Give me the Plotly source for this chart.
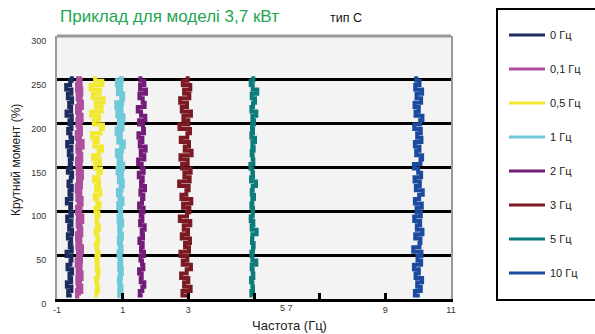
import plotly.graph_objects as go

# ---- data ----
torque = [4, 9, 14, 19, 24, 29, 34, 39, 44, 49, 54, 59, 64, 69, 74, 79, 84, 89, 94, 99,
          104, 109, 114, 119, 124, 129, 134, 139, 144, 149, 154, 159, 164, 169, 174, 179,
          184, 189, 194, 199, 204, 209, 214, 219, 224, 229, 234, 239, 244, 249, 254]

series_names = ["0 Гц", "0,1 Гц", "0,5 Гц", "1 Гц", "2 Гц", "3 Гц", "5 Гц", "10 Гц"]
series_centers = [-0.57, -0.33, 0.22, 0.92, 1.58, 2.92, 4.95, 10.0]

dev_0 = [0.02, -0.09, 0.01, -0.13, 0.00, -0.05, 0.03, -0.11, -0.02, 0.01,
         -0.14, 0.02, -0.04, 0.00, -0.10, 0.03, -0.06, 0.01, -0.12, 0.02,
         -0.03, 0.00, -0.13, 0.01, -0.05, 0.02, -0.08, -0.01, 0.03, -0.10,
         0.00, -0.04, 0.02, -0.07, 0.01, -0.12, 0.03, -0.02, -0.09, 0.01,
         -0.05, 0.02, -0.14, 0.00, -0.06, 0.03, -0.10, 0.01, -0.15, -0.03, 0.02]
dev_01 = [0.01, -0.03, 0.04, 0.00, -0.02, 0.05, -0.01, 0.02, -0.04, 0.03,
          0.00, 0.06, -0.02, 0.01, -0.03, 0.04, 0.02, -0.01, 0.07, 0.00,
          -0.03, 0.02, 0.05, -0.02, 0.01, -0.04, 0.03, 0.00, 0.06, -0.01,
          0.02, -0.03, 0.04, 0.01, -0.02, 0.08, 0.00, -0.04, 0.03, 0.01,
          -0.02, 0.05, 0.00, -0.03, 0.06, 0.02, -0.01, 0.04, -0.03, 0.02, 0.00]
dev_05 = [0.01, -0.02, 0.03, 0.00, -0.03, 0.02, 0.04, -0.01, 0.02, -0.02,
          0.05, 0.00, -0.03, 0.03, 0.01, -0.04, 0.06, 0.00, -0.02, 0.04,
          -0.05, 0.08, 0.01, -0.07, 0.10, -0.03, 0.06, -0.09, 0.04, 0.12,
          -0.06, 0.09, -0.12, 0.05, 0.15, -0.08, 0.02, -0.15, 0.11, 0.18,
          -0.10, 0.06, -0.18, 0.14, -0.04, 0.20, -0.13, 0.08, -0.20, 0.16, -0.06]
dev_1 = [0.02, -0.01, 0.03, 0.00, -0.02, 0.01, 0.04, -0.01, 0.02, 0.00,
         -0.03, 0.03, 0.01, -0.02, 0.04, 0.00, -0.01, 0.05, -0.03, 0.02,
         0.01, -0.04, 0.06, 0.00, -0.05, 0.03, 0.07, -0.02, 0.04, -0.06,
         0.08, -0.03, 0.02, -0.08, 0.05, 0.10, -0.04, 0.01, -0.09, 0.06,
         -0.02, 0.09, -0.07, 0.03, -0.10, 0.05, 0.08, -0.05, 0.02, -0.08, 0.04]
dev_2 = [0.03, -0.06, 0.02, 0.08, -0.03, 0.00, -0.08, 0.05, 0.01, -0.04,
         0.07, -0.02, 0.03, -0.07, 0.04, 0.00, 0.09, -0.05, 0.02, -0.03,
         0.06, -0.08, 0.01, 0.05, -0.04, 0.10, -0.02, 0.03, -0.09, 0.06,
         0.00, -0.11, 0.08, -0.03, 0.12, -0.06, 0.02, -0.10, 0.07, 0.04,
         -0.08, 0.11, -0.02, -0.12, 0.09, 0.03, -0.07, 0.13, -0.05, 0.08, -0.04]
dev_3 = [0.12, -0.10, 0.15, -0.05, 0.08, -0.14, 0.03, 0.16, -0.09, 0.05,
         -0.16, 0.10, -0.02, 0.13, -0.12, 0.07, -0.06, 0.14, -0.18, 0.04,
         0.11, -0.08, 0.17, -0.13, 0.02, 0.09, -0.20, 0.12, -0.04, 0.15,
         -0.11, 0.06, -0.16, 0.18, -0.03, 0.10, -0.15, 0.05, 0.13, -0.19,
         0.08, -0.07, 0.16, -0.12, 0.04, -0.17, 0.11, -0.05, 0.14, -0.09, 0.06]
dev_5 = [0.01, -0.03, 0.02, 0.00, -0.04, 0.03, 0.01, -0.02, 0.12, 0.00,
         -0.03, 0.02, 0.04, -0.01, 0.00, 0.13, -0.02, 0.03, -0.05, 0.01,
         0.02, -0.03, 0.00, 0.05, -0.02, 0.01, 0.11, -0.04, 0.02, 0.00,
         -0.06, 0.03, 0.01, -0.02, 0.04, 0.00, 0.08, -0.03, 0.02, -0.01,
         0.05, 0.00, 0.12, -0.03, 0.02, 0.08, -0.02, 0.15, 0.01, -0.05, 0.03]
dev_10 = [0.05, -0.10, 0.08, -0.03, 0.12, -0.08, 0.02, -0.13, 0.09, -0.02,
          0.10, -0.15, 0.04, 0.07, -0.09, 0.13, -0.04, 0.06, -0.12, 0.08,
          -0.05, 0.11, -0.10, 0.03, 0.14, -0.07, 0.05, -0.11, 0.09, 0.00,
          -0.13, 0.07, 0.12, -0.06, 0.04, -0.10, 0.10, -0.03, 0.08, -0.12,
          0.06, 0.13, -0.08, 0.02, -0.11, 0.09, -0.05, 0.12, -0.09, 0.04, -0.06]
series_devs = [dev_0, dev_01, dev_05, dev_1, dev_2, dev_3, dev_5, dev_10]

x_tickvals = [-1, 1, 3, 5, 7, 9, 11]
x_ticktext = ["-1", "1", "3", "", "", "9", "11"]
y_tickvals = [0, 50, 100, 150, 200, 250, 300]

# ---- styles ----
colors = ["#1e2b5e", "#ad4f9c", "#f2e830", "#70c9d9", "#721c78", "#7b1a22", "#0b7c79", "#1b4a9e"]
widths = [4, 6, 4, 5, 4, 4, 4, 4]
FONT = "Arial, 'Liberation Sans', sans-serif"

fig = go.Figure()
for name, c, dev, col, w in zip(series_names, series_centers, series_devs, colors, widths):
    fig.add_trace(go.Scatter(
        x=[c + d for d in dev], y=torque, mode="lines", name=name,
        legendgroup=name, showlegend=False,
        line=dict(color=col, width=w, shape="hv"),
    ))
# legend entries (thin line samples, as in the reference legend)
for name, col in zip(series_names, colors):
    fig.add_trace(go.Scatter(
        x=[None], y=[None], mode="lines", name=name, legendgroup=name,
        line=dict(color=col, width=3), showlegend=True, hoverinfo="skip",
    ))

W, H = 595, 334
L, R, T, B = 57, 451, 36, 299
pw, ph = R - L, B - T

def px(xp):
    return (xp - L) / pw

def py(yp):
    return (B - yp) / ph

fig.update_layout(
    width=W, height=H,
    margin=dict(l=L, r=W - R, t=T, b=H - B, autoexpand=False),
    paper_bgcolor="white", plot_bgcolor="#f3f3f3",
    font=dict(family=FONT, size=9, color="#333"),
    showlegend=True,
    legend=dict(
        x=px(504), y=py(20.5), xanchor="left", yanchor="top",
        bgcolor="rgba(0,0,0,0)", borderwidth=0,
        font=dict(family=FONT, size=11, color="#222"),
        tracegroupgap=15, itemwidth=36, maxheight=1,
    ),
    xaxis=dict(
        range=[-1, 11], tickvals=x_tickvals, ticktext=x_ticktext,
        showgrid=False, zeroline=False,
        showline=True, linecolor="black", linewidth=3,
        ticks="inside", ticklen=6, tickwidth=3, tickcolor="black",
        tickfont=dict(size=9, color="#333"),
    ),
    yaxis=dict(
        range=[0, 300], tickvals=y_tickvals,
        showgrid=True, gridcolor="black", gridwidth=3, zeroline=False,
        showline=True, linecolor="#999", linewidth=2, mirror=True,
        ticks="inside", ticklen=3, tickwidth=2, tickcolor="black",
        tickfont=dict(size=9, color="#333"),
        ticklabelshift=5, ticklabelstandoff=7,
    ),
    shapes=[
        dict(type="line", xref="paper", yref="paper", x0=0, x1=1, y0=1, y1=1,
             line=dict(color="#999", width=3), layer="above"),
        dict(type="rect", xref="paper", yref="paper",
             x0=px(497), x1=px(640), y0=py(300), y1=py(9),
             line=dict(color="black", width=2), fillcolor="rgba(0,0,0,0)", layer="above"),
    ],
    annotations=[
        dict(text="Приклад для моделі 3,7 кВт", xref="paper", yref="paper",
             x=px(58), y=py(17), xanchor="left", yanchor="middle", showarrow=False,
             font=dict(family=FONT, size=17, color="#22a650")),
        dict(text="тип С", xref="paper", yref="paper",
             x=px(328), y=py(18), xanchor="left", yanchor="middle", showarrow=False,
             font=dict(family=FONT, size=12.5, color="#111")),
        dict(text="Частота (Гц)", xref="paper", yref="paper",
             x=px(289), y=py(325), xanchor="center", yanchor="middle", showarrow=False,
             font=dict(family=FONT, size=13, color="#222")),
        dict(text="Крутний момент (%)", xref="paper", yref="paper", textangle=-90,
             x=px(16), y=py(160), xanchor="center", yanchor="middle", showarrow=False,
             font=dict(family=FONT, size=12, color="#222")),
        dict(text="5 7", xref="x", yref="paper",
             x=6, y=py(308), xanchor="center", yanchor="middle", showarrow=False,
             font=dict(family=FONT, size=9, color="#333")),
    ],
)

fig.write_html("out.html", config={"displayModeBar": False},
               post_script="document.body.style.margin='0px';")
